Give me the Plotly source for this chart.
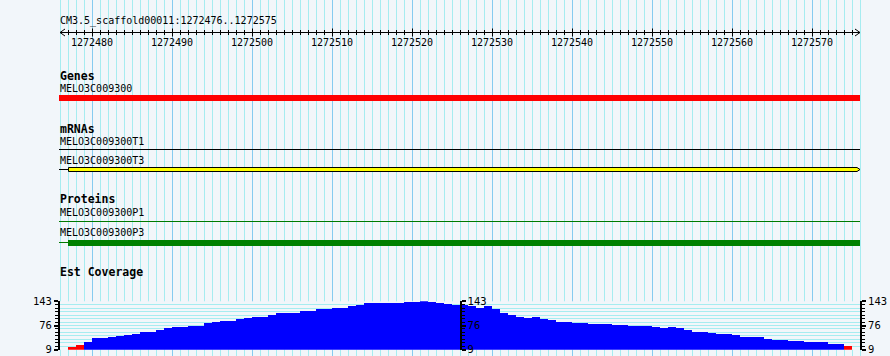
import plotly.graph_objects as go

# ---------------- data ----------------
view_start = 1272476
view_end = 1272576  # exclusive end (region 1272476..1272575)
ruler_label = "CM3.5_scaffold00011:1272476..1272575"
major_ticks = [1272480, 1272490, 1272500, 1272510, 1272520, 1272530, 1272540, 1272550, 1272560, 1272570]

gene_name = "MELO3C009300"
gene_span = (1272476, 1272576)

mrna_names = ["MELO3C009300T1", "MELO3C009300T3"]
mrna_intron = [(1272476, 1272576), (1272476, 1272477)]
mrna_exon = [None, (1272477, 1272576)]

protein_names = ["MELO3C009300P1", "MELO3C009300P3"]
protein_intron = [(1272476, 1272576), (1272476, 1272477)]
protein_cds = [None, (1272477, 1272576)]

cov_min, cov_mid, cov_max = 9, 76, 143
coverage = [None, 17, 20, 30, 40, 40, 43, 46, 48, 53,
            56, 56, 64, 68, 70, 70, 73, 75, 81, 84,
            87, 89, 92, 97, 100, 100, 105, 109, 111, 111,
            114, 114, 120, 122, 125, 125, 129, 132, 138, 138,
            138, 138, 138, 141, 141, 143, 141, 138, 135, 133,
            133, 129, 125, 128, 120, 111, 105, 98, 95, 98,
            93, 90, 84, 84, 81, 81, 80, 80, 80, 77,
            77, 75, 75, 73, 70, 67, 70, 67, 63, 58,
            58, 55, 52, 52, 48, 44, 42, 42, 39, 36,
            36, 33, 33, 30, 30, 30, 25, 23, 19, None]
low_threshold = 21

# ---------------- layout helpers ----------------
W, H = 890, 356
PX_LEFT = 60       # pixel of view_start
PX_PER_BP = 8.0
x0_bp = view_start - PX_LEFT / PX_PER_BP
x1_bp = x0_bp + W / PX_PER_BP
px = 1.0 / PX_PER_BP  # one pixel in bp units
hp = 0.5 * px         # half-pixel for crisp 1px lines

BG = "#f2f6fa"
MINOR = "#a6ecf0"
MAJOR = "#86cbf0"
MONO = "DejaVu Sans Mono"

fig = go.Figure()
shapes = []
annos = []

def label(x, y, text, size=10, bold=False, xanchor="left", xshift=-2):
    annos.append(dict(x=x, y=y, xref="x", yref="y", text=("<b>%s</b>" % text) if bold else text,
                      showarrow=False, xanchor=xanchor, yanchor="middle", xshift=xshift,
                      font=dict(family=MONO, size=size, color="black")))

# ---------------- ruler ----------------
ruler_y = 32.5
label(view_start, 21, ruler_label)
tx, ty = [], []
for bp in range(view_start + 1, view_end):
    h = 4 if bp in major_ticks else 2.5
    tx += [bp + hp, bp + hp, None]
    ty += [ruler_y - h, ruler_y + h, None]
fig.add_trace(go.Scatter(x=tx, y=ty, mode="lines", line=dict(color="black", width=1),
                         hoverinfo="skip", showlegend=False, xaxis="x", yaxis="y"))
fig.add_trace(go.Scatter(x=[view_start, view_end], y=[ruler_y, ruler_y], mode="lines",
                         line=dict(color="black", width=1), hoverinfo="skip", showlegend=False))
# arrow heads
ah = 5 * px
fig.add_trace(go.Scatter(x=[view_start + ah, view_start, view_start + ah, None,
                            view_end - ah, view_end, view_end - ah],
                         y=[ruler_y - 3.5, ruler_y, ruler_y + 3.5, None,
                            ruler_y - 3.5, ruler_y, ruler_y + 3.5],
                         mode="lines", line=dict(color="black", width=1),
                         hoverinfo="skip", showlegend=False))
for t in major_ticks:
    label(t, 42, str(t), xanchor="center", xshift=0)

# ---------------- Genes ----------------
label(view_start, 76, "Genes", size=11.5, bold=True)
label(view_start, 88, gene_name)
shapes.append(dict(type="rect", xref="x", yref="y", x0=gene_span[0] - px, x1=gene_span[1],
                   y0=95, y1=101, fillcolor="#ff0000", line=dict(width=0)))

# ---------------- mRNAs ----------------
label(view_start, 129, "mRNAs", size=11.5, bold=True)
mrna_rows = [(141, 149.5), (160, 169.5)]
for name, intr, ex, (ly, fy) in zip(mrna_names, mrna_intron, mrna_exon, mrna_rows):
    label(view_start, ly, name)
    shapes.append(dict(type="line", xref="x", yref="y", x0=intr[0] - px, x1=intr[1],
                       y0=fy, y1=fy, line=dict(color="black", width=1)))
    if ex is not None:
        a, b = ex
        tip = 3 * px
        path = "M %f,%f L %f,%f L %f,%f L %f,%f L %f,%f Z" % (
            a + hp, fy - 2, b - tip, fy - 2, b, fy, b - tip, fy + 2, a + hp, fy + 2)
        shapes.append(dict(type="path", xref="x", yref="y", path=path,
                           fillcolor="#ffff00", line=dict(color="black", width=1)))

# ---------------- Proteins ----------------
label(view_start, 199, "Proteins", size=11.5, bold=True)
prot_rows = [(212.5, 221.5), (232.5, 242.5)]
for name, intr, cds, (ly, fy) in zip(protein_names, protein_intron, protein_cds, prot_rows):
    label(view_start, ly, name)
    shapes.append(dict(type="line", xref="x", yref="y", x0=intr[0] - px, x1=intr[1],
                       y0=fy, y1=fy, line=dict(color="#007a00", width=1)))
    if cds is not None:
        shapes.append(dict(type="rect", xref="x", yref="y", x0=cds[0], x1=cds[1],
                           y0=fy - 2.5, y1=fy + 3.5, fillcolor="#008000", line=dict(width=0)))

# ---------------- Est Coverage ----------------
label(view_start, 272, "Est Coverage", size=11.5, bold=True)
cov_x = [view_start + 0.5 + i for i in range(len(coverage))]
cov_colors = ["#ff0000" if (v is not None and v < low_threshold) else "#0000ff" for v in coverage]
fig.add_trace(go.Bar(x=cov_x, y=coverage, width=1.0, marker=dict(color=cov_colors, line=dict(width=0)),
                     xaxis="x3", yaxis="y2", hoverinfo="skip", showlegend=False))
for ya in ["y3", "y4"]:
    fig.add_trace(go.Scatter(x=[view_start], y=[cov_min], mode="markers", marker=dict(opacity=0),
                             xaxis="x3", yaxis=ya, hoverinfo="skip", showlegend=False))

cov_top_px, cov_bot_px = 301.3, 349.7
cov_domain = [1 - cov_bot_px / H, 1 - cov_top_px / H]
minor_vals = [cov_min + i * (cov_max - cov_min) / 14 for i in range(15)]

def cov_axis(side, **kw):
    d = dict(domain=cov_domain, range=[cov_min, cov_max], side=side,
             tickmode="array", tickvals=[cov_min, cov_mid, cov_max],
             ticktext=[str(cov_min), str(cov_mid), str(cov_max)],
             ticks="outside", ticklen=4, tickwidth=2, tickcolor="black",
             showline=True, linecolor="black", linewidth=2, zeroline=False, automargin=False,
             tickfont=dict(family=MONO, size=10.5, color="black"), ticklabelstandoff=0)
    d.update(kw)
    return d

minor_cfg = dict(tickmode="array", tickvals=minor_vals, ticks="outside", ticklen=3,
                 tickwidth=1, tickcolor="black", showgrid=True, gridcolor=MINOR, gridwidth=1)

fig.update_layout(
    width=W, height=H,
    margin=dict(l=0, r=0, t=0, b=0, pad=0),
    paper_bgcolor=BG, plot_bgcolor=BG,
    bargap=0,
    xaxis=dict(domain=[0, 1], range=[x0_bp, x1_bp], showticklabels=False, ticks="",
               tickmode="array", tickvals=major_ticks, showgrid=True, gridcolor=MAJOR, gridwidth=1,
               zeroline=False, showline=False, automargin=False,
               minor=dict(tickmode="array", tickvals=list(range(view_start, view_end + 1)),
                          showgrid=True, gridcolor=MINOR, gridwidth=1, ticks="")),
    yaxis=dict(domain=[0, 1], range=[H, 0], visible=False, showgrid=False, zeroline=False,
               automargin=False),
    xaxis3=dict(domain=[PX_LEFT / W, (PX_LEFT + (view_end - view_start) * PX_PER_BP) / W],
                range=[view_start, view_end], anchor="y2", visible=False, showgrid=False,
                zeroline=False, automargin=False),
    yaxis2=cov_axis("left", anchor="x3", showgrid=True, gridcolor=MINOR, minor=minor_cfg),
    yaxis3=cov_axis("right", overlaying="y2", anchor="free", position=460.5 / W, showgrid=False,
                    minor=dict(tickmode="array", tickvals=minor_vals, ticks="outside", ticklen=3,
                               tickwidth=1, tickcolor="black", showgrid=False)),
    yaxis4=cov_axis("right", overlaying="y2", anchor="free", position=861 / W, showgrid=False,
                    minor=dict(tickmode="array", tickvals=minor_vals, ticks="outside", ticklen=3,
                               tickwidth=1, tickcolor="black", showgrid=False)),
    shapes=shapes,
    annotations=annos,
)

fig.write_html("out.html", config={"displayModeBar": False},
               post_script="document.body.style.margin='0';document.body.style.overflow='hidden';")
